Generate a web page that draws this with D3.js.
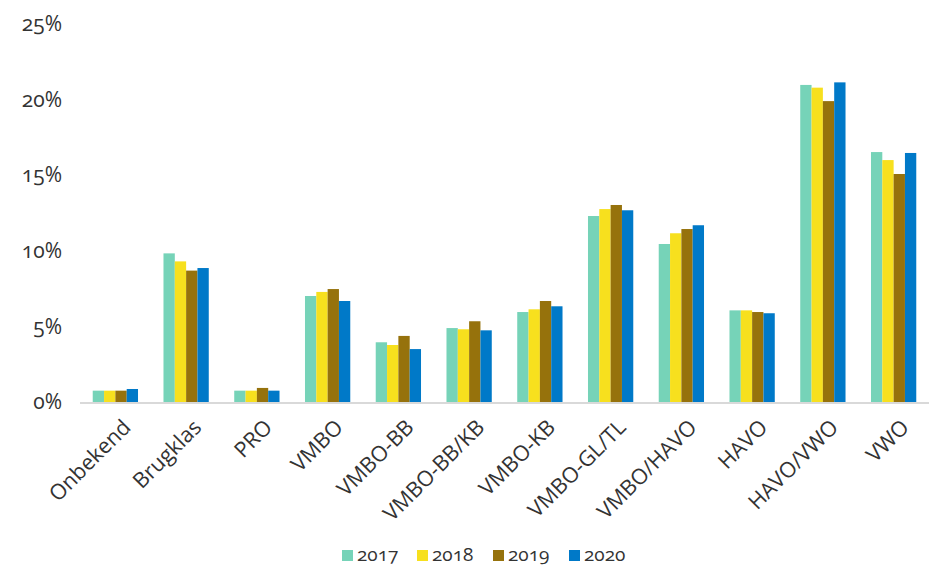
<!DOCTYPE html>
<html>
<head>
<meta charset="utf-8">
<script src="https://cdn.jsdelivr.net/npm/d3@7"></script>
<style>
  html, body { margin: 0; padding: 0; background: #fff; }
  svg { display: block; }
  .num { font-family: "Open Sans", sans-serif; font-variant-numeric: oldstyle-nums; font-feature-settings: "onum" 1; }
  .lbl { font-family: "Open Sans", sans-serif; }
</style>
</head>
<body>
<svg id="chart" width="929" height="567"></svg>
<script>
const categories = ["Onbekend","Brugklas","PRO","VMBO","VMBO-BB","VMBO-BB/KB","VMBO-KB","VMBO-GL/TL","VMBO/HAVO","HAVO","HAVO/VWO","VWO"];
const seriesNames = ["2017","2018","2019","2020"];
const v2017 = [0.75, 9.83, 0.75, 7.01, 3.95, 4.89, 5.95, 12.30, 10.45, 6.06, 20.97, 16.53];
const v2018 = [0.75, 9.30, 0.75, 7.28, 3.77, 4.81, 6.13, 12.76, 11.16, 6.06, 20.79, 16.00];
const v2019 = [0.75, 8.69, 0.93, 7.47, 4.37, 5.34, 6.68, 13.03, 11.44, 5.95, 19.90, 15.08];
const v2020 = [0.86, 8.86, 0.75, 6.68, 3.50, 4.74, 6.33, 12.68, 11.69, 5.87, 21.14, 16.47];
const yTicks = [0, 5, 10, 15, 20, 25];
const colors = ["#76d3b8", "#f7e01e", "#96720c", "#0079c8"];

const values = [v2017, v2018, v2019, v2020];
const svg = d3.select("#chart");

const x0 = d3.scaleBand().domain(categories).range([80, 929]).paddingInner(0.36).paddingOuter(0.18);
const x1 = d3.scaleBand().domain(seriesNames).range([0, x0.bandwidth()]);
const y = d3.scaleLinear().domain([0, 25]).range([402, 24]);
const color = d3.scaleOrdinal().domain(seriesNames).range(colors);

// bars
const groups = svg.append("g").selectAll("g").data(categories).join("g")
  .attr("transform", d => `translate(${x0(d)},0)`);
groups.selectAll("rect")
  .data((c, i) => seriesNames.map((s, k) => ({ s, v: values[k][i] })))
  .join("rect")
  .attr("x", d => x1(d.s))
  .attr("y", d => y(d.v))
  .attr("width", x1.bandwidth())
  .attr("height", d => y(0) - y(d.v))
  .attr("fill", d => color(d.s));

// baseline
svg.append("line")
  .attr("x1", 80).attr("x2", 929)
  .attr("y1", y(0) + 1).attr("y2", y(0) + 1)
  .attr("stroke", "#d9d9d9").attr("stroke-width", 2);

// y axis
const yAxis = d3.axisLeft(y).tickValues(yTicks).tickFormat(d => d + "%").tickSize(0).tickPadding(0);
const yg = svg.append("g").attr("transform", "translate(62,0)").call(yAxis);
yg.select(".domain").remove();
yg.selectAll("text").attr("class", "num").attr("font-size", 21).attr("fill", "#333").attr("dy", "0.32em");

// x axis labels
const xAxis = d3.axisBottom(x0).tickSize(0).tickPadding(0);
const xg = svg.append("g").call(xAxis);
xg.select(".domain").remove();
xg.selectAll(".tick").attr("transform", d => `translate(${x0(d) + x0.bandwidth() / 2 + 6},418)`);
xg.selectAll("text")
  .attr("class", "lbl")
  .attr("font-size", 21.5)
  .attr("fill", "#333")
  .attr("text-anchor", "end")
  .attr("x", 0).attr("y", 0).attr("dy", "0.7em")
  .attr("transform", "rotate(-45)");

// legend
const legendX = [342, 417, 493, 569];
const lg = svg.append("g").selectAll("g").data(seriesNames).join("g")
  .attr("transform", (d, i) => `translate(${legendX[i]},550)`);
lg.append("rect").attr("width", 11).attr("height", 11).attr("fill", d => color(d));
lg.append("text").attr("class", "num").attr("x", 15).attr("y", 11)
  .attr("font-size", 19).attr("fill", "#333").text(d => d);
</script>
</body>
</html>
